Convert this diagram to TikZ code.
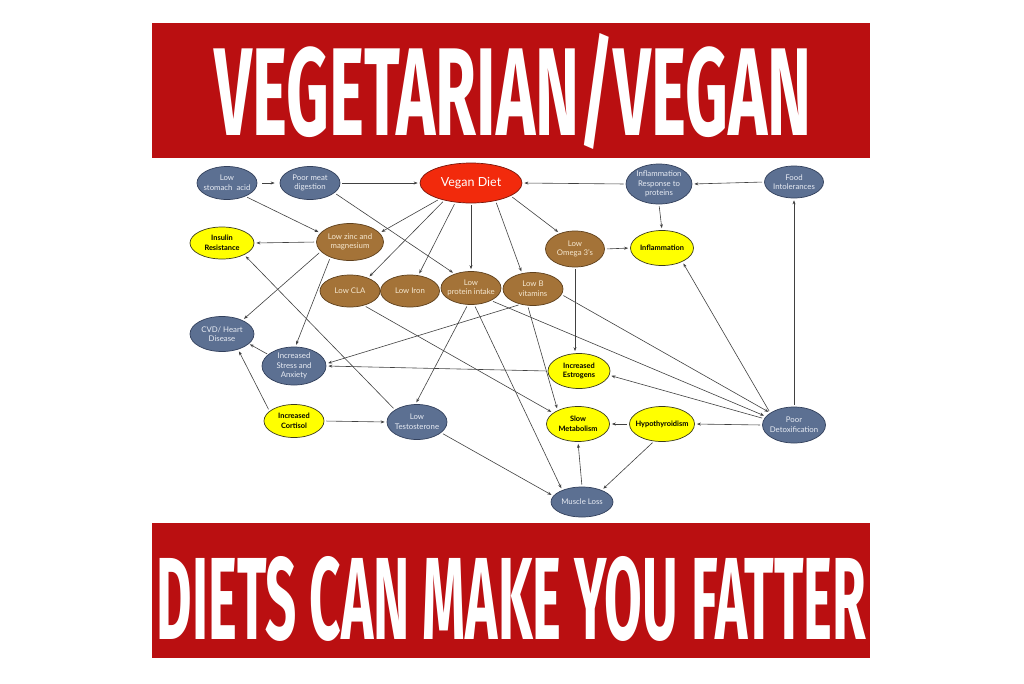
\documentclass[tikz,border=0pt]{standalone}
\usepackage{fontspec}
\usepackage{graphicx}
\usetikzlibrary{shapes.geometric,arrows.meta}
\setmainfont{Lato}
\newfontfamily\bannerfont{Fira Sans}
\definecolor{bannerred}{RGB}{186,15,17}
\definecolor{slateF}{RGB}{92,112,146}
\definecolor{slateD}{RGB}{50,64,92}
\definecolor{slateT}{RGB}{232,236,244}
\definecolor{brownF}{RGB}{164,115,56}
\definecolor{brownD}{RGB}{95,64,28}
\definecolor{brownT}{RGB}{246,232,208}
\definecolor{yelF}{RGB}{255,255,0}
\definecolor{yelD}{RGB}{60,60,30}
\definecolor{redF}{RGB}{242,42,12}
\definecolor{redD}{RGB}{120,22,10}
\definecolor{lineC}{RGB}{65,65,65}
\tikzset{
  base/.style={ellipse, line width=0.7pt, inner sep=0pt},
  slate/.style={base, fill=slateF, draw=slateD},
  brown/.style={base, fill=brownF, draw=brownD},
  yel/.style={base, fill=yelF, draw=yelD},
  redn/.style={base, fill=redF, draw=redD},
  slatetxt/.style={align=center, inner sep=0pt, text=slateT, font=\fontsize{7.8}{9.6}\selectfont},
  browntxt/.style={align=center, inner sep=0pt, text=brownT, font=\fontsize{7.8}{9.6}\selectfont},
  yeltxt/.style={align=center, inner sep=0pt, text=black, font=\bfseries\fontsize{7.4}{9.6}\selectfont},
  redntxt/.style={align=center, inner sep=0pt, text=white, font=\fontsize{12.5}{14}\selectfont},
  conn/.style={draw=lineC, line width=0.6pt, -{Stealth[length=4pt,width=3pt]}, shorten >=2pt, shorten <=2pt},
}
\newcommand\enode[6]{\node[#1, minimum width=#2pt, minimum height=#3pt, label={[#1txt]center:#6}] (#4) at (#5) {};}
\begin{document}
\begin{tikzpicture}[x=1pt,y=-1pt]
\useasboundingbox (0,0) rectangle (1024,683);
\fill[white] (0,0) rectangle (1024,683);
% banners
\fill[bannerred] (152,23) rectangle (870,158);
\fill[bannerred] (152,523) rectangle (870,658);
\node[inner sep=0pt, text=white] (title1) at (513,91) {\resizebox{597pt}{102pt}{\bannerfont\bfseries VEGETARIAN/VEGAN}};
\node[inner sep=0pt, text=white] (title2) at (511.5,598.5) {\resizebox{709pt}{83pt}{\bannerfont\bfseries DIETS CAN MAKE YOU FATTER}};
% nodes
\enode{slate}{60}{33}{stomach}{227,183}{Low\\stomach\ \ acid}
\enode{slate}{60}{33}{meat}{310,183}{Poor meat\\digestion}
\enode{redn}{102}{40}{vegan}{471,183}{Vegan Diet}
\enode{slate}{66}{40}{inflresp}{659,184}{Inflammation\\Response to\\proteins}
\enode{slate}{59}{32}{food}{794,182}{Food\\Intolerances}
\enode{yel}{64}{32}{insulin}{222,243}{Insulin\\Resistance}
\enode{brown}{67}{37}{zinc}{350,242}{Low zinc and\\magnesium}
\enode{brown}{59}{36}{omega}{575,249}{Low\\Omega 3’s}
\enode{yel}{63}{35}{inflam}{662,248}{Inflammation}
\enode{brown}{60}{32}{cla}{350,291}{Low CLA}
\enode{brown}{59}{32}{iron}{410,291}{Low Iron}
\enode{brown}{60}{33}{protein}{471,288}{Low\\protein intake}
\enode{brown}{60}{33}{lowb}{533,289}{Low B\\vitamins}
\enode{slate}{64}{35}{cvd}{222,334}{CVD/ Heart\\Disease}
\enode{slate}{64}{38}{stress}{294,366}{Increased\\Stress and\\Anxiety}
\enode{yel}{60}{33}{cort}{294,421}{Increased\\Cortisol}
\enode{slate}{60}{35}{testo}{417,422}{Low\\Testosterone}
\enode{yel}{62}{35}{estro}{579,371}{Increased\\Estrogens}
\enode{yel}{63}{35}{slow}{578,424}{Slow\\Metabolism}
\enode{yel}{65}{35}{hypo}{662,424}{Hypothyroidism}
\enode{slate}{63}{36}{detox}{794,425}{Poor\\Detoxification}
\enode{slate}{62}{30}{muscle}{582,502}{Muscle Loss}
% connectors
\draw[conn, shorten <=5pt, shorten >=5pt] (stomach.east) -- (meat.west);
\draw[conn] (meat.east) -- (vegan.west);
\draw[conn] (inflresp.west) -- (vegan.east);
\draw[conn] (food.west) -- (inflresp.east);
\draw[conn] (inflresp.south) -- (inflam.north);
\draw[conn] (stomach.-36) -- (zinc.163);
\draw[conn] (meat.-22) -- (protein.139);
\draw[conn] (vegan.207) -- (zinc.17);
\draw[conn] (vegan.213) -- (cla.36);
\draw[conn] (vegan.231) -- (iron.62);
\draw[conn] (vegan.south) -- (protein.north);
\draw[conn] (vegan.-36) -- (lowb.125);
\draw[conn] (vegan.-18) -- (omega.134);
\draw[conn] (omega.east) -- (inflam.west);
\draw[conn] (omega.south) -- (omega.south |- estro.north);
\draw[conn] (zinc.west) -- (insulin.east);
\draw[conn] (zinc.198) -- (cvd.34);
\draw[conn] (zinc.218) -- (stress.86);
\draw[conn] (testo.151) -- (insulin.-28);
\draw[conn, shorten <=1pt, shorten >=1pt] (stress.156) -- (cvd.-20);
\draw[conn] (cort.158) -- (cvd.-44);
\draw[conn] (cort.east) -- (testo.west);
\draw[conn] (estro.west) -- (stress.east);
\draw[conn] (lowb.231) -- (stress.4);
\draw[conn] (cla.-46) -- (slow.156);
\draw[conn] (protein.259) -- (testo.95);
\draw[conn] (protein.-79) -- (muscle.149);
\draw[conn] (lowb.252) -- (slow.146);
\draw[conn] (lowb.-11) -- (detox.153);
\draw[conn] (protein.-32) -- (detox.163);
\draw[conn] (detox.168) -- (estro.-8);
\draw[conn] (detox.153) -- (inflam.-34);
\draw[conn] (detox.west) -- (hypo.east);
\draw[conn] (detox.north) -- (food.south);
\draw[conn] (hypo.west) -- (slow.east);
\draw[conn] (hypo.245) -- (muscle.31);
\draw[conn] (muscle.north) -- (slow.south);
\draw[conn] (testo.-24) -- (muscle.168);
\end{tikzpicture}
\end{document}
